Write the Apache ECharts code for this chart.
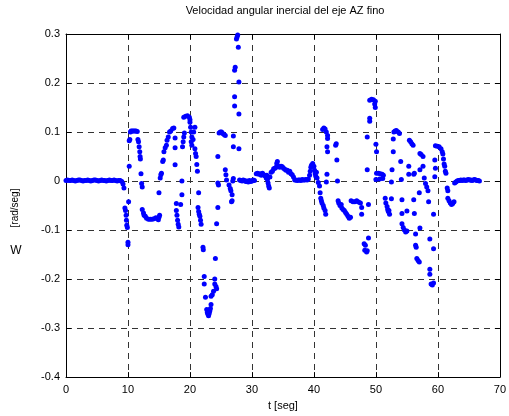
<!DOCTYPE html>
<html>
<head>
<meta charset="utf-8">
<script src="https://cdn.jsdelivr.net/npm/echarts@6/dist/echarts.min.js"></script>
<style>
  html, body { margin: 0; padding: 0; background: #fff; }
  #chart { width: 509px; height: 416px; }
</style>
</head>
<body>
<div id="chart"></div>
<script>
// [t (s), w] pairs, split by time span
const flatStart = [
  [0, 0.001], [0.25, 0.002], [0.5, 0.001], [0.75, 0.001], [1, 0.002], [1.25, 0.001], [1.5, 0],
  [1.75, 0.001], [2, 0.002], [2.25, 0.002], [2.5, 0.001], [2.75, 0], [3, 0.001], [3.25, 0.001],
  [3.5, 0.002], [3.75, 0.001], [4, 0], [4.25, 0.001], [4.5, 0.002], [4.75, 0.002], [5, 0.001],
  [5.25, 0], [5.5, 0.001], [5.75, 0.002], [6, 0.001], [6.25, 0.001], [6.5, 0], [6.75, 0.001],
  [7, 0.002], [7.25, 0.001], [7.5, 0.001], [7.75, 0.002], [8, 0.001], [8.25, 0], [8.5, 0.001],
  [8.75, 0.001], [9, -0.001], [9.2, -0.006], [9.35, -0.014]
];
const seg10to15 = [
  [9.5, -0.055], [9.6, -0.06], [9.7, -0.07], [9.75, -0.08], [9.8, -0.09], [9.9, -0.095],
  [10.0, -0.125], [10.0, -0.13], [10.1, -0.042], [10.2, 0.03], [10.2, 0.082], [10.3, 0.085],
  [10.4, 0.1], [10.5, 0.102], [10.7, 0.102], [10.9, 0.102], [11.1, 0.102], [11.3, 0.102],
  [11.5, 0.101], [11.6, 0.085], [11.7, 0.08], [11.8, 0.07], [11.9, 0.06], [11.95, 0.05],
  [12.0, 0.045], [12.1, 0.015], [12.2, -0.005], [12.3, -0.012], [12.3, -0.058], [12.5, -0.065],
  [12.6, -0.07], [12.8, -0.072], [13.0, -0.076], [13.3, -0.078], [13.6, -0.078], [13.9, -0.078],
  [14.2, -0.077], [14.5, -0.075], [14.8, -0.076], [14.9, -0.079], [15.0, -0.074], [15.1, -0.07]
];
const seg15to22 = [
  [15.0, -0.024], [15.2, 0.006], [15.3, 0.013], [15.4, 0.016], [15.6, 0.04], [15.7, 0.043],
  [15.8, 0.06], [16.0, 0.068], [16.2, 0.073], [16.3, 0.083], [16.5, 0.09], [16.7, 0.1],
  [16.9, 0.102], [17.2, 0.107], [17.4, 0.108], [17.6, 0.088], [17.6, 0.068], [17.6, 0.033],
  [17.8, -0.046], [17.8, -0.06], [17.9, -0.07], [18.0, -0.08], [18.1, -0.088], [18.2, -0.094],
  [18.5, -0.048], [18.7, 0], [18.7, -0.028], [18.8, 0.07], [18.9, 0.08], [19.0, 0.09],
  [19.1, 0.098], [19.0, 0.13], [19.3, 0.132], [19.6, 0.133], [19.9, 0.13], [20.0, 0.125],
  [20.0, 0.12], [20.1, 0.11], [20.2, 0.1], [20.3, 0.09], [20.2, 0.08], [20.3, 0.073],
  [20.5, 0.085], [20.6, 0.1], [20.8, 0.11], [20.8, 0.066], [20.9, 0.056], [21.0, 0.05],
  [21.1, 0.034], [21.2, 0.02], [21.4, -0.024], [21.3, -0.054], [21.4, -0.062], [21.5, -0.068],
  [21.6, -0.072], [21.7, -0.08], [21.8, -0.088]
];
const seg22to28 = [
  [22.1, -0.135], [22.15, -0.14], [22.3, -0.195], [22.3, -0.21], [22.5, -0.237], [22.7, -0.262],
  [22.8, -0.268], [22.9, -0.272], [23.0, -0.275], [23.1, -0.27], [23.2, -0.265], [23.3, -0.26],
  [23.4, -0.252], [23.4, -0.235], [23.6, -0.232], [23.8, -0.225], [24.0, -0.21], [24.2, -0.215],
  [24.3, -0.22], [24.0, -0.2], [24.1, -0.158], [24.3, -0.087], [24.5, -0.054], [24.5, -0.004],
  [24.6, -0.008], [24.5, 0.05], [24.7, 0.098], [24.9, 0.1], [25.1, 0.1], [25.3, 0.097],
  [25.5, 0.095], [25.7, 0.093], [25.7, 0.023], [25.8, 0.013], [25.9, 0.002], [26.3, -0.008],
  [26.5, -0.015], [26.6, -0.02], [26.8, -0.028], [26.8, -0.04], [26.7, -0.042], [26.9, 0.0],
  [27.0, 0.005], [27.0, 0.07], [27.0, 0.092], [27.2, 0.153], [27.2, 0.172], [27.2, 0.226],
  [27.3, 0.232], [27.5, 0.29], [27.6, 0.294], [27.7, 0.298], [27.8, 0.273], [27.9, 0.202],
  [27.9, 0.137], [27.9, 0.066]
];
const seg28to41 = [
  [28.0, 0.002], [28.2, 0.001], [28.4, 0.0], [28.6, 0.002], [28.8, 0.001], [29.0, -0.001],
  [29.2, 0.0], [29.4, -0.002], [29.6, 0.001], [29.8, -0.001], [30.0, 0.0], [30.2, 0.002],
  [30.4, 0.001], [30.7, 0.015], [30.9, 0.016], [31.1, 0.014], [31.3, 0.015], [31.5, 0.012],
  [31.7, 0.016], [31.9, 0.013], [32.1, 0.011], [32.3, 0.006], [32.4, 0.012], [32.5, 0.003],
  [32.6, -0.004], [32.7, -0.01], [32.8, -0.014], [32.9, 0.008], [33.1, 0.018], [33.3, 0.02],
  [33.5, 0.025], [33.7, 0.026], [33.9, 0.028], [34.0, 0.036], [34.1, 0.04], [34.3, 0.03],
  [34.5, 0.028], [34.7, 0.03], [34.9, 0.029], [35.1, 0.026], [35.3, 0.024], [35.5, 0.022],
  [35.7, 0.022], [35.9, 0.018], [36.1, 0.02], [36.3, 0.015], [36.5, 0.013], [36.7, 0.008],
  [36.9, 0.002], [37.1, 0.002], [37.3, 0.001], [37.5, 0.002], [37.7, 0.002], [37.9, 0.001],
  [38.1, 0.003], [38.3, 0.002], [38.5, 0.002], [38.7, 0.003], [38.9, 0.002], [39.1, 0.004],
  [39.3, 0.012], [39.4, 0.02], [39.5, 0.028], [39.6, 0.032], [39.8, 0.036], [40.0, 0.03],
  [40.1, 0.022], [40.2, 0.015], [40.3, 0.01], [40.4, 0.018], [40.5, 0.006], [40.7, -0.003],
  [40.9, -0.01]
];
const seg41to49 = [
  [41.0, -0.024], [41.1, -0.035], [41.2, -0.04], [41.3, -0.045], [41.5, -0.05], [41.6, -0.055],
  [41.8, -0.06], [41.9, -0.068], [41.4, 0.105], [41.6, 0.108], [41.8, 0.106], [42.0, 0.1],
  [42.2, 0.093], [42.2, 0.087], [42.1, 0.07], [42.2, 0.06], [42.1, 0.014], [42.0, -0.002],
  [43.5, 0.073], [43.6, 0.076], [43.7, 0.043], [43.8, 0.0], [43.9, -0.04], [44.0, -0.045],
  [44.2, -0.05], [44.4, -0.048], [44.5, -0.055], [44.7, -0.058], [44.9, -0.06], [45.1, -0.064],
  [45.3, -0.068], [45.5, -0.072], [45.7, -0.076], [45.9, -0.074], [46.0, -0.04], [46.3, -0.042],
  [46.6, -0.042], [46.9, -0.04], [47.2, -0.043], [47.5, -0.045], [47.7, -0.054], [47.7, -0.068],
  [48.1, -0.128], [48.2, -0.141], [48.3, -0.131], [48.5, -0.145], [48.6, -0.142], [48.8, -0.116],
  [48.8, -0.048], [48.6, 0.023], [48.6, 0.09], [49.0, 0.128], [49.0, 0.122]
];
const seg49to60 = [
  [49.0, 0.165], [49.3, 0.167], [49.6, 0.166], [49.9, 0.163], [49.8, 0.157], [49.9, 0.15],
  [50.0, 0.075], [50.1, 0.06], [50.0, 0.003], [50.1, 0.016], [50.4, 0.016], [50.7, 0.015],
  [51.0, 0.014], [51.2, 0.012], [50.6, 0.004], [51.1, 0.005], [51.5, -0.035], [51.6, -0.045],
  [51.8, -0.052], [51.9, -0.058], [52.0, -0.062], [52.2, -0.068], [52.1, -0.06], [52.5, -0.036],
  [52.5, -0.002], [52.6, 0.023], [52.8, 0.06], [52.8, 0.086], [52.9, 0.1], [53.1, 0.102],
  [53.3, 0.103], [53.6, 0.1], [53.8, 0.097], [54.0, 0.04], [54.1, 0.003], [54.2, -0.038],
  [54.2, -0.066], [54.2, -0.087], [54.4, -0.095], [54.6, -0.1], [54.8, -0.104], [55.0, -0.102],
  [55.0, -0.061], [55.3, 0.03], [55.3, 0.014], [55.4, 0.083], [55.6, 0.08], [55.8, 0.076],
  [56.0, 0.073], [56.1, 0.014], [56.2, 0.016], [56.1, -0.038], [56.2, -0.066], [56.4, -0.108],
  [56.4, -0.131], [56.5, -0.135], [56.6, -0.158], [56.8, -0.162], [57.0, -0.165], [57.0, -0.024],
  [57.1, -0.096], [57.1, 0.023], [57.1, 0.056], [57.3, 0.054], [57.6, 0.05], [57.6, 0.03],
  [57.8, 0.006], [58.0, -0.005], [58.2, -0.012], [58.4, -0.02], [58.5, -0.042], [58.7, -0.118],
  [58.7, -0.18], [58.7, -0.19], [58.9, -0.21], [59.1, -0.212], [59.3, -0.208], [59.3, -0.138],
  [59.3, -0.068], [59.5, 0.009], [59.6, 0.026], [59.5, 0.043]
];
const seg60toEnd = [
  [59.6, 0.072], [59.9, 0.071], [60.2, 0.07], [60.5, 0.066], [60.7, 0.06], [60.8, 0.055],
  [60.9, 0.045], [61.0, 0.035], [61.1, 0.03], [61.2, 0.02], [61.3, 0.016], [61.5, -0.014],
  [61.6, -0.02], [61.6, -0.035], [61.8, -0.04], [62.0, -0.045], [62.2, -0.048], [62.4, -0.046],
  [62.6, -0.042], [62.7, -0.004], [62.9, -0.002], [63.1, 0.0], [63.3, 0.001], [63.5, 0.001],
  [63.7, 0.002], [63.9, 0.001], [64.1, 0.002], [64.3, 0.002], [64.5, 0.001], [64.7, 0.002],
  [64.9, 0.003], [65.1, 0.002], [65.3, 0.002], [65.5, 0.001], [65.7, 0.002], [65.9, 0.003],
  [66.1, 0.002], [66.3, 0.001], [66.5, 0.001], [66.7, 0.0]
];

const xTicks = [0, 70, 10];      // min, max, step
const yTicks = [-0.4, 0.3, 0.1];

const points = [].concat(flatStart, seg10to15, seg15to22, seg22to28,
  seg28to41, seg41to49, seg49to60, seg60toEnd);

const font = "Arial, 'Liberation Sans', sans-serif";
const gridLine = { show: true, lineStyle: { color: "#333", type: [6, 5], width: 1 } };
const frame = { show: true, onZero: false, lineStyle: { color: "#000" } };
const ticks = { show: true, inside: true, length: 5, lineStyle: { color: "#000" } };

const chart = echarts.init(document.getElementById("chart"), null, { renderer: "canvas" });
chart.setOption({
  animation: false,
  backgroundColor: "#fff",
  grid: { left: 66, right: 5.5, top: 34, bottom: 34 },
  graphic: [
    { type: "text", x: 285, y: 5, style: { text: "Velocidad angular inercial del eje AZ fino",
      font: "11px " + font, fill: "#000", textAlign: "center", textVerticalAlign: "top" } },
    { type: "text", x: 15, y: 208, rotation: Math.PI / 2, style: { text: "[rad/seg]",
      font: "10px " + font, fill: "#000", textAlign: "center", textVerticalAlign: "middle" } },
    { type: "text", x: 16, y: 251, style: { text: "W", font: "12px " + font, fill: "#000",
      textAlign: "center", textVerticalAlign: "middle" } },
  ],
  xAxis: [
    {
      type: "value", min: xTicks[0], max: xTicks[1], interval: xTicks[2],
      name: "t [seg]", nameLocation: "middle", nameGap: 20,
      nameTextStyle: { color: "#000", fontSize: 11, fontFamily: font },
      axisLine: frame, axisTick: ticks,
      axisLabel: { color: "#000", fontSize: 11, fontFamily: font, margin: 7 },
      splitLine: gridLine,
    },
    {
      type: "value", position: "top", min: xTicks[0], max: xTicks[1], interval: xTicks[2],
      axisLine: frame, axisTick: ticks,
      axisLabel: { show: false }, splitLine: { show: false },
    },
  ],
  yAxis: [
    {
      type: "value", min: yTicks[0], max: yTicks[1], interval: yTicks[2],
      axisLine: frame, axisTick: ticks,
      axisLabel: { color: "#000", fontSize: 11, fontFamily: font, margin: 6,
        formatter: (v) => String(Math.round(v * 10) / 10) },
      splitLine: gridLine,
    },
    {
      type: "value", position: "right", min: yTicks[0], max: yTicks[1], interval: yTicks[2],
      axisLine: frame, axisTick: ticks,
      axisLabel: { show: false }, splitLine: { show: false },
    },
  ],
  series: [
    {
      type: "scatter",
      data: points,
      symbol: "circle",
      symbolSize: 5,
      itemStyle: { color: "#0000ff", opacity: 1 },
    },
  ],
});
</script>
</body>
</html>
